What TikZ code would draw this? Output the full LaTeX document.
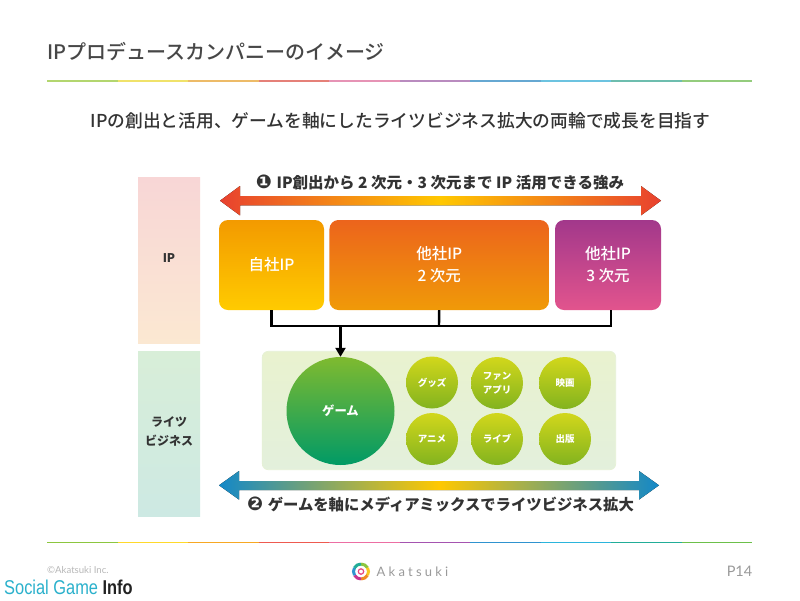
\documentclass[tikz,border=0pt]{standalone}
\usepackage{graphicx}
\usepackage{fontspec}
\setmainfont{Noto Sans CJK JP}
\newfontfamily\medA{Noto Sans CJK JP Medium}
\newfontfamily\medB{Noto Sans CJK JP Medium}
\newfontfamily\sym{DejaVu Sans}
\newfontfamily\lat{Lato}
\newfontfamily\sgi{Liberation Sans}
\usetikzlibrary{arrows.meta,calc}
\definecolor{txt}{HTML}{333333}
\definecolor{gr}{HTML}{9A9A9A}
\definecolor{cTop}{HTML}{D2D71B}
\definecolor{cBot}{HTML}{82B31F}
\definecolor{bandA}{HTML}{F8D6D6}
\definecolor{bandB}{HTML}{FBE8D2}
\definecolor{bandC}{HTML}{D8EED8}
\definecolor{bandD}{HTML}{CDE9E3}
\definecolor{arRed}{HTML}{E8412F}
\definecolor{arYel}{HTML}{FFC800}
\definecolor{arBlu}{HTML}{1388C8}
\definecolor{ownA}{HTML}{F39A00}
\definecolor{ownB}{HTML}{FFCB00}
\definecolor{twoA}{HTML}{EC641C}
\definecolor{twoB}{HTML}{F09A08}
\definecolor{thrA}{HTML}{A2388B}
\definecolor{thrB}{HTML}{E2548D}
\definecolor{panA}{HTML}{E9F2CF}
\definecolor{panB}{HTML}{E3F0DC}
\definecolor{gamA}{HTML}{7FBA2F}
\definecolor{gamB}{HTML}{009A66}
\definecolor{pinkc}{HTML}{E8467C}
\definecolor{sgblue}{HTML}{2BB1CC}
\definecolor{sgdark}{HTML}{222222}
\tikzset{
  px/.style={x=1pt,y=-1pt},
  head/.style={font=\medA\fontsize{20}{22}\selectfont,text=txt!90,inner sep=0pt,anchor=west},
  sub/.style={font=\medB\fontsize{17.75}{22}\selectfont,text=txt,inner sep=0pt},
  arrowtxt/.style={font=\bfseries,text=txt,inner sep=0pt},
  band/.style={draw=none,minimum width=62pt,inner sep=0pt,font=\bfseries\fontsize{12}{19}\selectfont,text=txt,align=center},
  ipbox/.style={draw=none,rounded corners=9pt,inner sep=0pt,minimum height=90pt,text=white,font=\medB\fontsize{15.5}{22}\selectfont,align=center},
  minor/.style={circle,draw=none,minimum size=52pt,inner sep=0pt,top color=cTop,bottom color=cBot,text=white,font=\bfseries\fontsize{9.5}{14}\selectfont,align=center},
  conn/.style={draw=black,line width=2.4pt},
}
\begin{document}
\begin{tikzpicture}[px]
\useasboundingbox (0,0) rectangle (800,600);
\fill[white] (0,0) rectangle (800,600);
% title
\node[head] (title) at (47,52) {IPプロデュースカンパニーのイメージ};
\node[sub] (subt) at (400.5,121) {IPの創出と活用、ゲームを軸にしたライツビジネス拡大の両輪で成長を目指す};
% rule lines
\foreach \i/\c in {0/B3D66F,1/F0E26A,2/EDBB68,3/E58078,4/E693B5,5/B98BBF,6/66A8D2,7/6CC3E0,8/6DBDAE,9/94CC7D}{
  \definecolor{segc}{HTML}{\c}
  \fill[segc] ({47+70.5*\i},80.2) rectangle ({47+70.5*(\i+1)},82);
}
\foreach \i/\c in {0/8CC63F,1/FFD92B,2/F7A823,3/EE5A50,4/EC6EA3,5/A554B0,6/2F93CF,7/2BB5DC,8/22AD98,9/6CC04A}{
  \definecolor{segc}{HTML}{\c}
  \fill[segc] ({47+70.5*\i},541.6) rectangle ({47+70.5*(\i+1)},543.2);
}
% bands
\node[band,minimum height=165.5pt,top color=bandA,bottom color=bandB] (bip) at (169,260.3) {};
\node[band,minimum height=165pt,top color=bandC,bottom color=bandD] (brt) at (169,433.5) {};
\node[band,text=txt] (lip) at (169,258.5) {IP};
\node[band,text=txt] (lrt) at (169,431.5) {ライツ\\ビジネス};
% top arrow
\fill[left color=arRed,right color=arRed,middle color=arYel]
 (220,200.7) -- (240,186) -- (240,196) -- (641,196) -- (641,186) -- (661,200.7) -- (641,215.4) -- (641,205.4) -- (240,205.4) -- (240,215.4) -- cycle;
\node[arrowtxt] (atop) at (440,182.5) {\fontsize{15.5}{18}\selectfont{\sym\fontsize{19}{18}\selectfont ❶}\hspace{1pt} IP創出から 2 次元・3 次元まで IP 活用できる強み};
% IP boxes
\node[ipbox,minimum width=105pt,top color=ownA,bottom color=ownB] (own) at (271.5,265) {自社IP};
\node[ipbox,minimum width=219.5pt,top color=twoA,bottom color=twoB] (o2) at (439.2,265) {他社IP\\2 次元};
\node[ipbox,minimum width=106pt,top color=thrA,bottom color=thrB] (o3) at (608,265) {他社IP\\3 次元};
% panel
\path[rounded corners=6pt,top color=panA,bottom color=panB,draw=panA!50!panB,line width=.7pt] (262.3,351.3) rectangle (615.7,469.7);
% connectors
\coordinate (j1) at (271.5,326);
\coordinate (j3) at (611,326);
\coordinate (j0) at (340.5,326);
\coordinate (j2) at (439,326);
\node[circle,draw=none,minimum size=108pt,inner sep=0pt,top color=gamA,bottom color=gamB,text=white,font=\bfseries\fontsize{12.3}{15}\selectfont] (game) at (340.5,411) {ゲーム};
\draw[conn] (own.south) -- (j1) -- (j3) -- (j3 |- o3.south);
\draw[conn] (o2.south) -- (j2);
\draw[conn,-{Triangle[length=9pt,width=10pt]}] (j0) -- (game.north);
% small circles
\node[minor] (c1) at (432,382.5) {グッズ};
\node[minor] (c2) at (497,383) {ファン\\アプリ};
\node[minor] (c3) at (565,383) {映画};
\node[minor] (c4) at (432,439) {アニメ};
\node[minor] (c5) at (497,439) {ライブ};
\node[minor] (c6) at (565,439) {出版};
% bottom arrow
\fill[left color=arBlu,right color=arBlu,middle color=arYel]
 (219,485.3) -- (239,471) -- (239,481) -- (639,481) -- (639,471) -- (659,485.3) -- (639,499.6) -- (639,490) -- (239,490) -- (239,499.6) -- cycle;
\node[arrowtxt] (abot) at (440.5,504) {\fontsize{15.35}{18}\selectfont{\sym\fontsize{19}{18}\selectfont ❷}\hspace{1pt} ゲームを軸にメディアミックスでライツビジネス拡大};
% footer
\node[inner sep=0pt,anchor=west,text=gr!70,font=\lat\fontsize{9.6}{10}\selectfont] (copy) at (47,570) {©Akatsuki Inc.};
\foreach \a/\b/\c in {90/30/8CC63F,30/-30/F7C821,-30/-90/F08A24,-90/-150/C6358F,-150/-210/2F93CF,-210/-270/22AD98}{
  \definecolor{segc}{HTML}{\c}
  \draw[segc,line width=3pt] (361,571.5) ++(\a:7.5pt) arc[start angle=\a,end angle=\b,radius=7.5pt];
}
\draw[pinkc,line width=1.2pt] (361,571.5) circle[radius=2.7pt];
\node[inner sep=0pt,anchor=west,text=gr,font=\lat\fontsize{13}{15}\selectfont] (logo) at (376.5,571.5) {A\hspace{3.2pt}k\hspace{3.2pt}a\hspace{3.2pt}t\hspace{3.2pt}s\hspace{3.2pt}u\hspace{3.2pt}k\hspace{3.2pt}i};
\node[inner sep=0pt,anchor=east,text=gr,font=\lat\fontsize{14.5}{16}\selectfont] (page) at (752.5,571.5) {P14};
\node[inner sep=0pt,anchor=west,font=\sgi\fontsize{20}{22}\selectfont] (sg) at (4,587) {\scalebox{.82}[1]{\textcolor{sgblue}{Social Game} \textcolor{sgdark}{\textbf{Info}}}};
\end{tikzpicture}
\end{document}
